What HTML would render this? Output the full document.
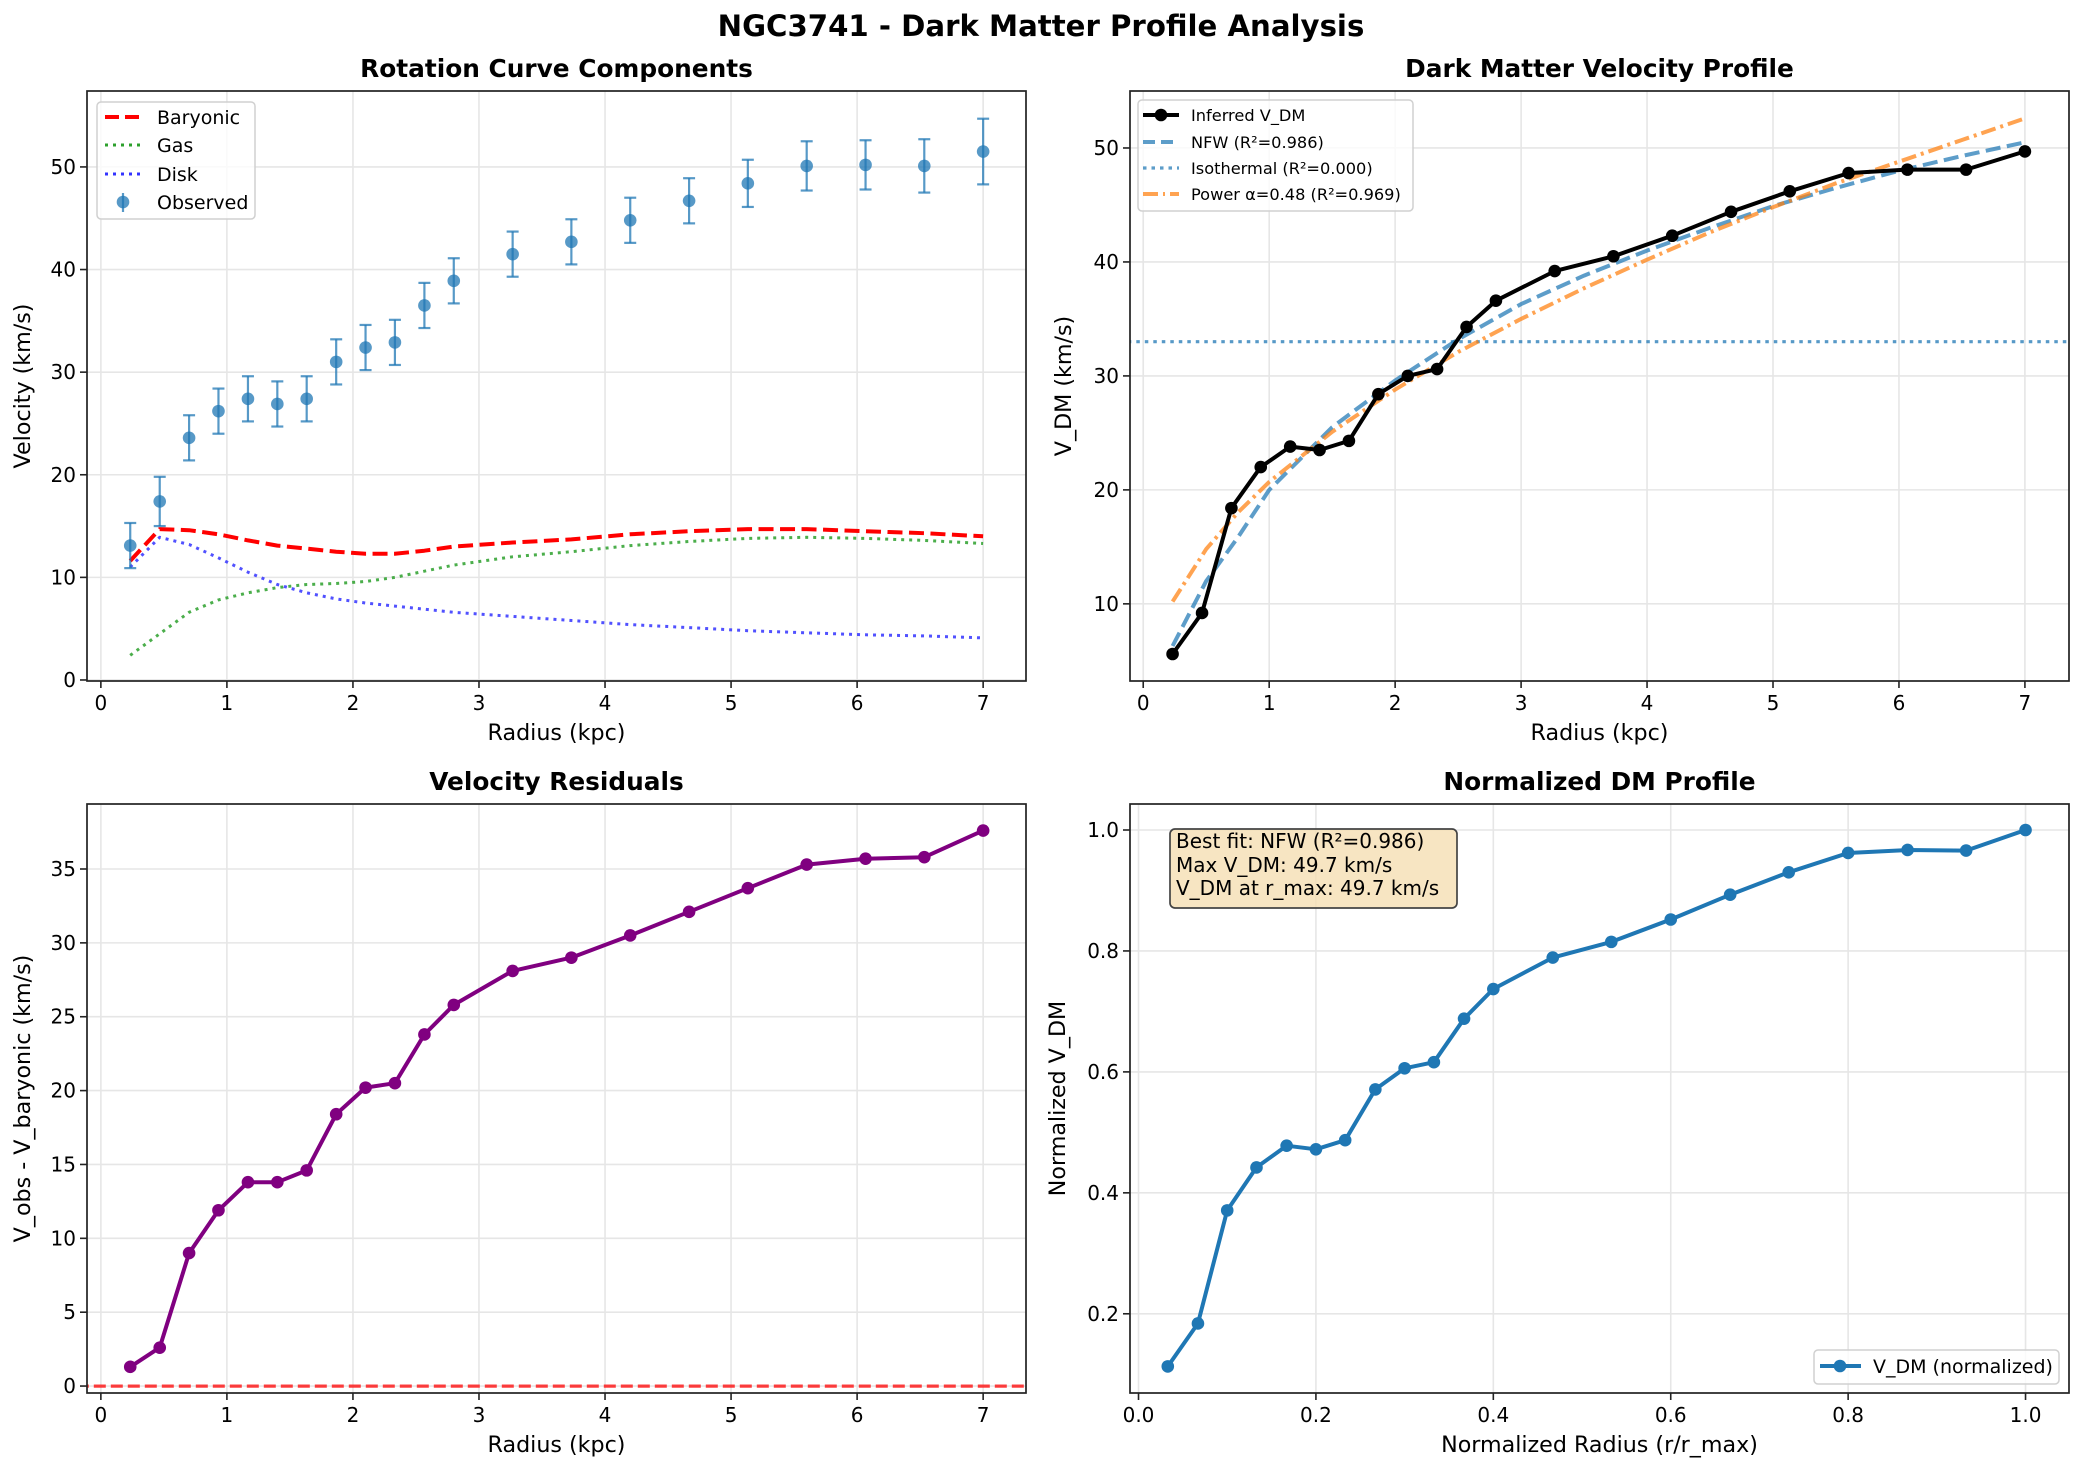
<!DOCTYPE html>
<html><head><meta charset="utf-8"><style>
body{margin:0;background:#fff}
svg{display:block;font-family:"DejaVu Sans","Liberation Sans",sans-serif}
</style></head><body>
<svg id="fig" width="2083" height="1475" viewBox="0 0 2083 1475" xmlns="http://www.w3.org/2000/svg">
<rect width="2083" height="1475" fill="#fff"/>
<text x="1041" y="36" text-anchor="middle" font-size="29.2" font-weight="bold">NGC3741 - Dark Matter Profile Analysis</text>
</svg>
<script>
const radius=[0.233,0.467,0.7,0.933,1.167,1.4,1.633,1.867,2.1,2.333,2.567,2.8,3.267,3.733,4.2,4.667,5.133,5.6,6.067,6.533,7.0];
const vObs=[13.1,17.4,23.6,26.2,27.4,26.9,27.4,31.0,32.4,32.9,36.5,38.9,41.5,42.7,44.8,46.7,48.4,50.1,50.2,50.1,51.5];
const vErr=[2.2,2.4,2.2,2.2,2.2,2.2,2.2,2.2,2.2,2.2,2.2,2.2,2.2,2.2,2.2,2.2,2.3,2.4,2.4,2.6,3.2];
const vBary=[11.6,14.7,14.6,14.2,13.6,13.1,12.8,12.5,12.3,12.3,12.6,13.0,13.4,13.7,14.2,14.5,14.7,14.7,14.5,14.3,14.0];
const vGas=[2.4,4.5,6.6,7.8,8.5,9.0,9.3,9.4,9.6,10.0,10.6,11.2,12.0,12.5,13.1,13.5,13.8,13.9,13.8,13.6,13.3];
const vDisk=[11.0,13.9,13.2,11.9,10.5,9.3,8.5,7.9,7.5,7.2,6.9,6.6,6.2,5.8,5.4,5.1,4.8,4.6,4.4,4.3,4.1];
const residual=[1.3,2.6,9.0,11.9,13.8,13.8,14.6,18.4,20.2,20.5,23.8,25.8,28.1,29.0,30.5,32.1,33.7,35.3,35.7,35.8,37.6];
const vDM=[5.6,9.2,18.4,22.0,23.8,23.5,24.3,28.4,30.0,30.6,34.3,36.6,39.2,40.5,42.3,44.4,46.2,47.8,48.1,48.1,49.7];
const fitR=[0.233,0.5,0.75,1,1.5,2,2.5,3,3.5,4,4.5,5,5.5,6,6.5,7];
const nfwFit=[6.3,12.0,15.8,20.0,25.5,29.6,33.2,36.3,38.8,41.0,43.0,44.9,46.5,48.0,49.3,50.5];
const powerFit=[10.2,14.8,18.0,20.7,25.1,28.8,32.1,35.0,37.7,40.2,42.6,44.8,46.9,48.8,50.7,52.6];
const isoLevel=33.0;
const normR=[0.033,0.067,0.1,0.133,0.167,0.2,0.233,0.267,0.3,0.333,0.367,0.4,0.467,0.533,0.6,0.667,0.733,0.8,0.867,0.933,1.0];
const normV=[0.113,0.184,0.371,0.442,0.478,0.472,0.487,0.571,0.606,0.616,0.688,0.737,0.789,0.815,0.852,0.893,0.930,0.962,0.967,0.966,1.0];
const kpcTicks=[0,1,2,3,4,5,6,7];
const tl_yTicks=[0,10,20,30,40,50];
const tr_yTicks=[10,20,30,40,50];
const bl_yTicks=[0,5,10,15,20,25,30,35];
const br_xTicks=[0.0,0.2,0.4,0.6,0.8,1.0];
const br_yTicks=[0.2,0.4,0.6,0.8,1.0];

const NS="http://www.w3.org/2000/svg";
const fig=document.getElementById('fig');
function mk(tag,attrs,parent){const e=document.createElementNS(NS,tag);for(const k in attrs)e.setAttribute(k,attrs[k]);(parent||fig).appendChild(e);return e;}
function txt(s,attrs,parent){const e=mk('text',attrs,parent);e.textContent=s;return e;}

function axes(name,box,xl,yl,xt,yt,fmtx,fmty,title,xlab,ylab,ylabX){
  const g=mk('g',{});
  
  
  const X=v=>box.x0+(v-xl[0])/(xl[1]-xl[0])*(box.x1-box.x0);
  const Y=v=>box.y1-(v-yl[0])/(yl[1]-yl[0])*(box.y1-box.y0);
  const grid=mk('g',{},g);
  
  
  xt.forEach(t=>{mk('line',{x1:X(t),x2:X(t),y1:box.y0,y2:box.y1,stroke:'#e6e6e6','stroke-width':1.6},grid);});
  yt.forEach(t=>{mk('line',{x1:box.x0,x2:box.x1,y1:Y(t),y2:Y(t),stroke:'#e6e6e6','stroke-width':1.6},grid);});
  const plot=mk('g',{},g);
  const ax=mk('g',{},g);
  mk('rect',{x:box.x0,y:box.y0,width:box.x1-box.x0,height:box.y1-box.y0,fill:'none',stroke:'#222','stroke-width':1.7},ax);
  xt.forEach(t=>{mk('line',{x1:X(t),x2:X(t),y1:box.y1,y2:box.y1+7,stroke:'#222','stroke-width':1.6},ax);
    const l=txt(fmtx(t),{x:X(t),y:box.y1+29,'text-anchor':'middle','font-size':20},ax);
    });
  yt.forEach(t=>{mk('line',{x1:box.x0-7,x2:box.x0,y1:Y(t),y2:Y(t),stroke:'#222','stroke-width':1.6},ax);
    const l=txt(fmty(t),{x:box.x0-11,y:Y(t)+7,'text-anchor':'end','font-size':20},ax);
    });
  const cx=(box.x0+box.x1)/2;
  const tt=txt(title,{x:cx,y:box.y0-14,'text-anchor':'middle','font-size':24.8,'font-weight':'bold'},g);
  
  const xa=txt(xlab,{x:cx,y:box.y1+59,'text-anchor':'middle','font-size':22.2},g);
  
  const cy=(box.y0+box.y1)/2;
  const ya=txt(ylab,{x:ylabX,y:cy,'text-anchor':'middle','font-size':22.2,transform:`rotate(-90 ${ylabX} ${cy})`},g);
  
  const clipId='c'+name;
  const cp=mk('clipPath',{id:clipId},g);mk('rect',{x:box.x0,y:box.y0,width:box.x1-box.x0,height:box.y1-box.y0},cp);
  plot.setAttribute('clip-path',`url(#${clipId})`);
  return {X,Y,plot,box};
}
function pathD(xs,ys,A){return xs.map((x,i)=>(i?'L':'M')+A.X(x).toFixed(1)+' '+A.Y(ys[i]).toFixed(1)).join(' ');}
function line(A,xs,ys,attrs,name){const p=mk('path',Object.assign({d:pathD(xs,ys,A),fill:'none','stroke-linejoin':'round'},attrs),A.plot);
  return p;}
function dots(A,xs,ys,fill,name,op){xs.forEach((x,i)=>{const c=mk('circle',{cx:A.X(x),cy:A.Y(ys[i]),r:6.3,fill:fill,'fill-opacity':op||1},A.plot);
  });}
const i0=v=>String(v), f1=v=>v.toFixed(1);

// Top-left
const A1=axes('rotation-curve-panel',{x0:87,x1:1026,y0:91,y1:681},[-0.11,7.34],[-0.1,57.4],kpcTicks,tl_yTicks,i0,i0,'Rotation Curve Components','Radius (kpc)','Velocity (km/s)',30);
line(A1,radius,vBary,{stroke:'#ff0000','stroke-width':4,'stroke-dasharray':'15 6.5'},'baryonic-line');
line(A1,radius,vGas,{stroke:'#2ca02c','stroke-opacity':0.85,'stroke-width':3,'stroke-dasharray':'3 5','stroke-linecap':'butt'},'gas-line');
line(A1,radius,vDisk,{stroke:'#3333ff','stroke-opacity':0.85,'stroke-width':3,'stroke-dasharray':'3 5'},'disk-line');
radius.forEach((r,i)=>{const x=A1.X(r),yt=A1.Y(vObs[i]+vErr[i]),yb=A1.Y(vObs[i]-vErr[i]);
  const g=mk('g',{stroke:'#1f77b4','stroke-opacity':0.75,'stroke-width':2.2},A1.plot);
  
  mk('line',{x1:x,x2:x,y1:yt,y2:yb},g);mk('line',{x1:x-6,x2:x+6,y1:yt,y2:yt},g);mk('line',{x1:x-6,x2:x+6,y1:yb,y2:yb},g);});
dots(A1,radius,vObs,'#1f77b4','observed-point',0.75);
{const g=mk('g',{});
 mk('rect',{x:97,y:102,width:158,height:117,rx:4,fill:'#fff','fill-opacity':0.8,stroke:'#d0d0d0','stroke-width':1.5},g);
 mk('line',{x1:105,x2:141,y1:117,y2:117,stroke:'#f00','stroke-width':4,'stroke-dasharray':'14 6'},g);
 mk('line',{x1:105,x2:141,y1:145,y2:145,stroke:'#2ca02c','stroke-width':3,'stroke-dasharray':'3 5'},g);
 mk('line',{x1:105,x2:141,y1:174,y2:174,stroke:'#3333ff','stroke-width':3,'stroke-dasharray':'3 5'},g);
 mk('line',{x1:123,x2:123,y1:193,y2:212,stroke:'#1f77b4','stroke-opacity':0.75,'stroke-width':2.2},g);
 mk('circle',{cx:123,cy:202,r:6.3,fill:'#1f77b4','fill-opacity':0.75},g);
 [['Baryonic',124],['Gas',152],['Disk',181],['Observed',209]].forEach(a=>txt(a[0],{x:157,y:a[1],'font-size':19},g));}

// Top-right
const A2=axes('dark-matter-velocity-panel',{x0:1130,x1:2069,y0:91,y1:681},[-0.105,7.35],[3.23,55.0],kpcTicks,tr_yTicks,i0,i0,'Dark Matter Velocity Profile','Radius (kpc)','V_DM (km/s)',1071);
line(A2,[-1,9],[isoLevel,isoLevel],{stroke:'#1f77b4','stroke-opacity':0.75,'stroke-width':3.2,'stroke-dasharray':'3.5 5'},'isothermal-fit-line');
line(A2,fitR,nfwFit,{stroke:'#1f77b4','stroke-opacity':0.72,'stroke-width':4,'stroke-dasharray':'15 6.5'},'nfw-fit-line');
line(A2,fitR,powerFit,{stroke:'#ff7f0e','stroke-opacity':0.72,'stroke-width':4,'stroke-dasharray':'15 5 3 5'},'power-fit-line');
line(A2,radius,vDM,{stroke:'#000','stroke-width':4},'inferred-vdm-line');
dots(A2,radius,vDM,'#000','inferred-vdm-point');
{const g=mk('g',{});
 mk('rect',{x:1138,y:100,width:275,height:111,rx:4,fill:'#fff','fill-opacity':0.8,stroke:'#d0d0d0','stroke-width':1.5},g);
 mk('line',{x1:1143,x2:1179,y1:115,y2:115,stroke:'#000','stroke-width':4},g);mk('circle',{cx:1161,cy:115,r:6.3,fill:'#000'},g);
 mk('line',{x1:1143,x2:1179,y1:142,y2:142,stroke:'#1f77b4','stroke-opacity':0.72,'stroke-width':4,'stroke-dasharray':'12 6'},g);
 mk('line',{x1:1143,x2:1179,y1:168,y2:168,stroke:'#1f77b4','stroke-opacity':0.72,'stroke-width':3.2,'stroke-dasharray':'3.5 5'},g);
 mk('line',{x1:1143,x2:1179,y1:194,y2:194,stroke:'#ff7f0e','stroke-opacity':0.72,'stroke-width':4,'stroke-dasharray':'15 5 2 5'},g);
 [['Inferred V_DM',121],['NFW (R²=0.986)',148],['Isothermal (R²=0.000)',174],['Power α=0.48 (R²=0.969)',200]].forEach(a=>txt(a[0],{x:1191,y:a[1],'font-size':16.2},g));}

// Bottom-left
const A3=axes('velocity-residuals-panel',{x0:87,x1:1026,y0:804,y1:1393},[-0.11,7.34],[-0.47,39.4],kpcTicks,bl_yTicks,i0,i0,'Velocity Residuals','Radius (kpc)','V_obs - V_baryonic (km/s)',30);
line(A3,[-1,9],[0,0],{stroke:'#ff0000','stroke-opacity':0.75,'stroke-width':3.2,'stroke-dasharray':'12 5'},'zero-line');
line(A3,radius,residual,{stroke:'#800080','stroke-width':4},'residual-line');
dots(A3,radius,residual,'#800080','residual-point');

// Bottom-right
const A4=axes('normalized-dm-panel',{x0:1130,x1:2069,y0:804,y1:1393},[-0.0096,1.049],[0.069,1.043],br_xTicks,br_yTicks,f1,f1,'Normalized DM Profile','Normalized Radius (r/r_max)','Normalized V_DM',1065);
line(A4,normR,normV,{stroke:'#1f77b4','stroke-width':4},'normalized-vdm-line');
dots(A4,normR,normV,'#1f77b4','normalized-vdm-point');
{const g=mk('g',{});
 mk('rect',{x:1170,y:829,width:287,height:79,rx:5,fill:'#f5deb3','fill-opacity':0.8,stroke:'#444','stroke-width':1.7},g);
 [['Best fit: NFW (R²=0.986)',848],['Max V_DM: 49.7 km/s',872],['V_DM at r_max: 49.7 km/s',895]].forEach(a=>txt(a[0],{x:1176,y:a[1],'font-size':20},g));}
{const g=mk('g',{});
 mk('rect',{x:1814,y:1350,width:245,height:34,rx:4,fill:'#fff','fill-opacity':0.8,stroke:'#d0d0d0','stroke-width':1.5},g);
 mk('line',{x1:1820,x2:1861,y1:1366,y2:1366,stroke:'#1f77b4','stroke-width':4},g);mk('circle',{cx:1840,cy:1366,r:6.3,fill:'#1f77b4'},g);
 txt('V_DM (normalized)',{x:1873,y:1373,'font-size':19},g);}
</script>
</body></html>
